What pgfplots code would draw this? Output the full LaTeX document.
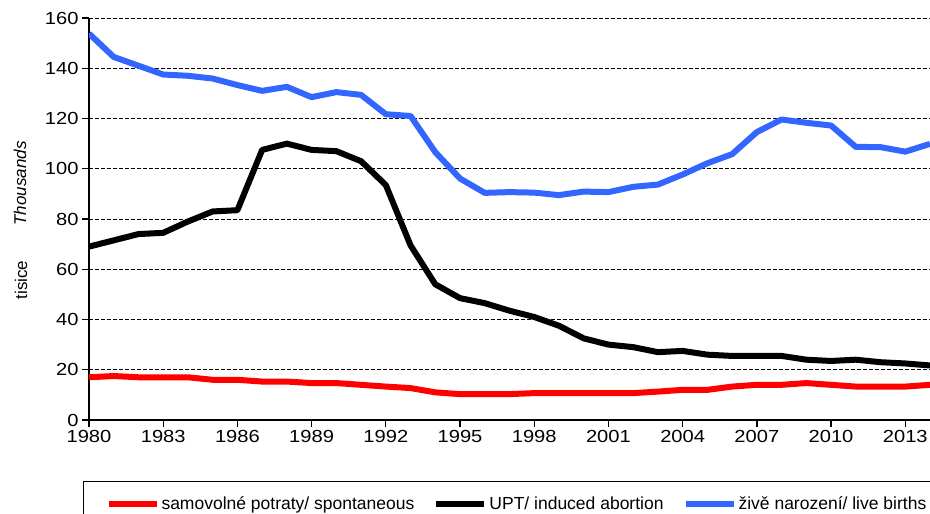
\documentclass[border=0pt]{standalone}
\usepackage{pgfplots}
\pgfplotsset{compat=1.18}
\usepackage{pgfplotstable}
\usepackage{fontspec}
\setmainfont{Liberation Sans}
\newfontfamily\tickfont[FakeStretch=1.15]{Liberation Sans}
\definecolor{cblue}{RGB}{51,102,255}
\definecolor{cred}{RGB}{255,0,0}

\pgfplotstableread{
year spont induced births
1980 17.0 69.0 153.8
1981 17.5 71.5 144.5
1982 17.0 74.0 141.0
1983 17.0 74.5 137.5
1984 17.0 79.0 137.0
1985 16.0 83.0 135.9
1986 16.0 83.5 133.3
1987 15.3 107.5 131.0
1988 15.3 110.0 132.6
1989 14.7 107.5 128.5
1990 14.7 107.0 130.5
1991 14.0 103.0 129.4
1992 13.3 93.5 121.7
1993 12.7 69.5 121.0
1994 11.0 54.0 106.6
1995 10.3 48.5 96.1
1996 10.3 46.5 90.4
1997 10.3 43.5 90.7
1998 10.7 41.0 90.5
1999 10.7 37.5 89.5
2000 10.7 32.5 90.9
2001 10.7 30.0 90.7
2002 10.7 29.0 92.8
2003 11.3 27.0 93.7
2004 12.0 27.5 97.7
2005 12.0 26.0 102.2
2006 13.3 25.5 105.8
2007 14.0 25.5 114.6
2008 14.0 25.5 119.6
2009 14.7 24.0 118.3
2010 14.0 23.5 117.2
2011 13.3 24.0 108.7
2012 13.3 23.0 108.6
2013 13.3 22.5 106.8
2014 14.0 21.7 109.9
}\datatable

\begin{document}
\begin{tikzpicture}[x=1pt,y=1pt]
\path[use as bounding box] (0,0) rectangle (930,514);
\clip (0,0) rectangle (930,514);
\begin{axis}[
  at={(89pt,94pt)}, anchor=south west,
  scale only axis, width=841pt, height=402pt,
  xmin=1980, xmax=2014, ymin=0, ymax=160,
  xtick={1980,1983,...,2013}, ytick={0,20,...,160},
  axis x line*=bottom, axis y line*=left,
  axis line style={-, black, line width=2pt},
  ymajorgrids,
  grid style={black, line width=0.9pt, dash pattern=on 4pt off 2pt},
  tick align=outside, major tick length=7pt,
  tick style={black, line width=1.3pt},
  /pgf/number format/assume math mode=true,
  /pgf/number format/1000 sep={},
  ticklabel style={font=\tickfont\fontsize{17.5}{20}\selectfont},
  legend columns=3,
  legend style={at={(-0.00713,-0.1517)}, anchor=north west,
    draw=black, line width=1pt, inner xsep=22pt, inner ysep=13pt,
    font=\fontsize{17.5}{20}\selectfont},
  legend cell align=left,
  legend image code/.code={\draw[#1, line width=6pt] (0pt,0pt) -- (48pt,0pt);},
  every axis plot/.append style={line width=6pt, line join=round},
]
\addplot[cred, no markers] table[x=year, y=spont] {\datatable};
\addlegendentry{samovolné potraty/ spontaneous\rule{17pt}{0pt}}
\addplot[black, no markers] table[x=year, y=induced] {\datatable};
\addlegendentry{UPT/ induced abortion\rule{17pt}{0pt}}
\addplot[cblue, no markers] table[x=year, y=births] {\datatable};
\addlegendentry{živě narození/ live births}
\end{axis}
\node[rotate=90, font=\fontsize{17}{20}\selectfont\itshape] at (20,330.5) {Thousands};
\node[rotate=90, font=\fontsize{17}{20}\selectfont] at (21,234) {tisice};
\end{tikzpicture}
\end{document}
